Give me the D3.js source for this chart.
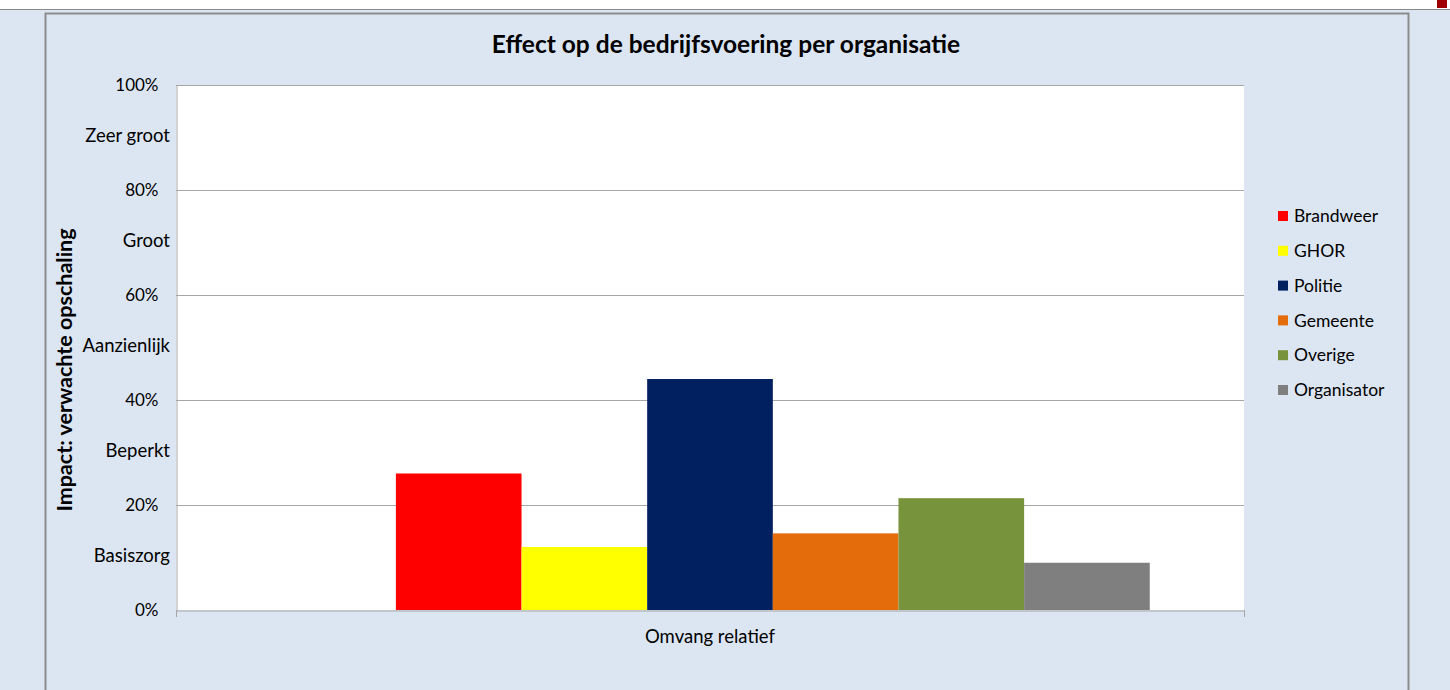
<!DOCTYPE html>
<html>
<head>
<meta charset="utf-8" />
<style>
body {
	margin:0;
	background:#dce6f2;
	font-family: Lato, "Open Sans", sans-serif;
}
svg text {
	fill:#000;
}
</style>
</head>
<body>
<svg id="plansza" width="1450" height="690" xmlns="http://www.w3.org/2000/svg"></svg>
<script src="https://cdn.jsdelivr.net/npm/d3@7"></script>
<script>

// data
var categories = ["Omvang relatief"];
var seriesNames = ["", "Brandweer", "GHOR", "Politie", "Gemeente", "Overige", "Organisator"];
var seriesValues = [null, 26, 12, 44, 14.6, 21.3, 9];
var seriesColors = ["none", "#ff0000", "#ffff00", "#002060", "#e46c0a", "#77933c", "#7f7f7f"];
var pctTicks = [0, 20, 40, 60, 80, 100];
var levelLabels = ["Basiszorg", "Beperkt", "Aanzienlijk", "Groot", "Zeer groot"];
var levelPos = [10, 30, 50, 70, 90];

var svg = d3.select("#plansza");
var plotL = 176, plotR = 1244, plotT = 85, plotB = 610;

// achtergrond en kader
svg.append("rect").attr("x",0).attr("y",0).attr("width",1450).attr("height",690).attr("fill","#dce6f2");
svg.append("rect").attr("x",0).attr("y",0).attr("width",1450).attr("height",9).attr("fill","#fff");
svg.append("line").attr("x1",0).attr("x2",1450).attr("y1",9.5).attr("y2",9.5).attr("stroke","#8a8a8a");
svg.append("rect").attr("x",1437).attr("y",0).attr("width",10).attr("height",8).attr("fill","#a00000");
svg.append("path")
	.attr("d","M45.5,700 V13.5 H1408.5 V700")
	.attr("fill","none").attr("stroke","#8c8c8c").attr("stroke-width",2);

// titel
svg.append("text")
	.attr("x",726).attr("y",53)
	.attr("text-anchor","middle")
	.attr("font-size","24.5px").attr("font-weight","bold")
	.text("Effect op de bedrijfsvoering per organisatie");

var y = d3.scaleLinear().domain([0,100]).range([plotB,plotT]);
var x0 = d3.scaleBand().domain(categories).range([plotL,plotR]);
var x1 = d3.scaleBand().domain(seriesNames).range([0,x0.bandwidth()]).paddingInner(0).paddingOuter(0.75);

// plotgebied
svg.append("rect").attr("x",plotL).attr("y",plotT).attr("width",plotR-plotL).attr("height",plotB-plotT).attr("fill","#fff");

var grid = svg.append("g");
pctTicks.forEach(function(t) {
	if (t == 0) return;
	grid.append("line")
		.attr("x1",plotL).attr("x2",plotR)
		.attr("y1",Math.round(y(t))+0.5).attr("y2",Math.round(y(t))+0.5)
		.attr("stroke","#a6a6a6");
});

// y-as
var yAxis = svg.append("g").attr("transform","translate("+(plotL+0.5)+",0)")
	.call(d3.axisLeft(y).tickValues(pctTicks).tickSize(0).tickPadding(18).tickFormat(function(d){ return d+"%"; }));
yAxis.select(".domain").attr("stroke","#a6a6a6");
yAxis.selectAll("text").attr("font-size","17px").attr("font-family","Lato, 'Open Sans', sans-serif").attr("fill","#000");

levelLabels.forEach(function(l,i) {
	svg.append("text")
		.attr("x",170).attr("y",y(levelPos[i])-2)
		.attr("dy","0.35em")
		.attr("text-anchor","end")
		.attr("font-size","18.5px")
		.text(l);
});

// balken
var groups = svg.selectAll("g.cat").data(categories).enter().append("g")
	.attr("class","cat")
	.attr("transform",function(d){ return "translate("+x0(d)+",0)"; });

groups.selectAll("rect").data(seriesNames.map(function(n,i){ return {name:n, value:seriesValues[i], color:seriesColors[i]}; }).filter(function(d){ return d.value != null; }))
	.enter().append("rect")
	.attr("x",function(d){ return x1(d.name); })
	.attr("y",function(d){ return y(d.value); })
	.attr("width",x1.bandwidth())
	.attr("height",function(d){ return plotB - y(d.value); })
	.attr("fill",function(d){ return d.color; });

// x-as
var xAxis = svg.append("g").attr("transform","translate(0,"+(plotB+0.5)+")")
	.call(d3.axisBottom(x0).tickSize(0).tickFormat(""));
xAxis.select(".domain").attr("stroke","#a6a6a6");
[plotL, plotR].forEach(function(px) {
	svg.append("line").attr("x1",px+0.5).attr("x2",px+0.5).attr("y1",plotB).attr("y2",plotB+7).attr("stroke","#a6a6a6");
});
svg.append("text")
	.attr("x",x0(categories[0])+x0.bandwidth()/2).attr("y",643)
	.attr("text-anchor","middle").attr("font-size","18.5px")
	.text(categories[0]);

// as-titel
svg.append("text")
	.attr("transform","translate(72,370) rotate(-90)")
	.attr("text-anchor","middle")
	.attr("font-size","21.5px").attr("font-weight","bold")
	.text("Impact: verwachte opschaling");

// legenda
var legend = svg.append("g");
var legItems = seriesNames.map(function(n,i){ return {name:n, color:seriesColors[i]}; }).filter(function(d){ return d.name != ""; });
legItems.forEach(function(d,i) {
	var cy = 216 + i*34.8;
	legend.append("rect").attr("x",1278).attr("y",cy-5).attr("width",10).attr("height",10).attr("fill",d.color);
	legend.append("text").attr("x",1294).attr("y",cy).attr("dy","0.35em").attr("font-size","17.5px").text(d.name);
});

</script>
</body>
</html>
